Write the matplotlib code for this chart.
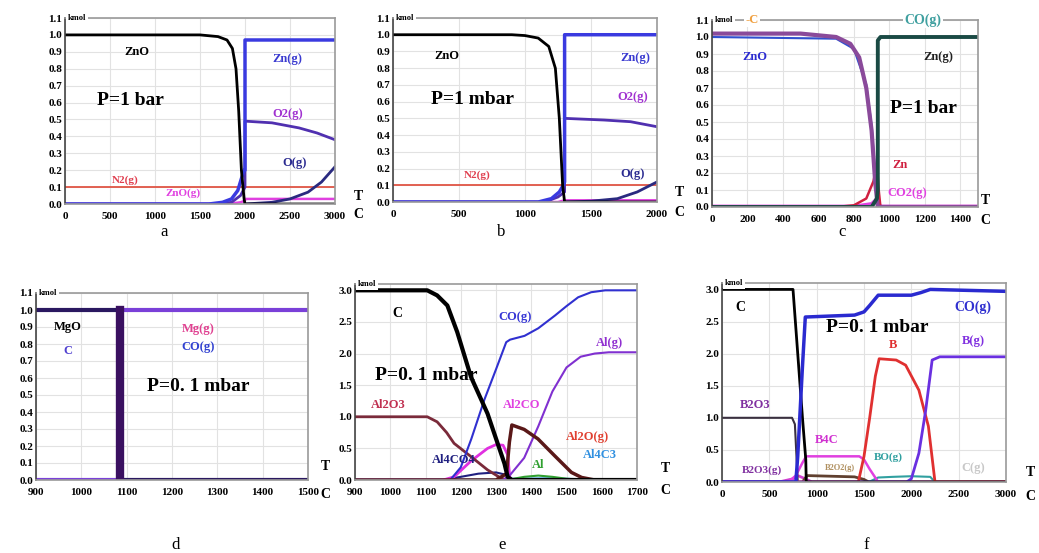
import matplotlib.pyplot as plt

plt.rcParams['font.family'] = ['Liberation Serif', 'DejaVu Serif']

# ---- panel a : ZnO, P = 1 bar ----
a_zno_t = [0, 1500, 1700, 1800, 1860, 1900, 1930, 1960, 1990, 2000, 3000]
a_zno = [1.0, 1.0, 0.99, 0.97, 0.92, 0.8, 0.55, 0.2, 0.03, 0.0, 0.0]
a_zng_t = [0, 1600, 1750, 1850, 1920, 1960, 1990, 2000, 2000, 3000]
a_zng = [0, 0, 0.01, 0.03, 0.08, 0.15, 0.2, 0.2, 0.97, 0.97]
a_o2_t = [0, 1700, 1850, 1950, 2000, 2000, 2300, 2600, 2800, 3000]
a_o2 = [0, 0, 0.01, 0.05, 0.1, 0.49, 0.48, 0.45, 0.42, 0.38]
a_o_t = [2000, 2300, 2500, 2700, 2850, 3000]
a_o = [0.0, 0.01, 0.03, 0.07, 0.13, 0.22]
a_n2_t = [0, 3000]
a_n2 = [0.1, 0.1]
a_znog_t = [0, 1800, 1950, 2000, 2000, 3000]
a_znog = [0.0, 0.0, 0.01, 0.02, 0.03, 0.03]

# ---- panel b : ZnO, P = 1 mbar ----
b_zno_t = [0, 900, 1000, 1100, 1180, 1230, 1260, 1285, 1300, 2000]
b_zno = [1.0, 1.0, 0.995, 0.98, 0.93, 0.8, 0.5, 0.1, 0.0, 0.0]
b_zng_t = [0, 1100, 1200, 1260, 1290, 1300, 1300, 2000]
b_zng = [0, 0, 0.02, 0.06, 0.1, 0.12, 1.0, 1.0]
b_o2_t = [0, 1150, 1250, 1300, 1300, 1600, 1800, 2000]
b_o2 = [0, 0, 0.03, 0.06, 0.5, 0.49, 0.48, 0.45]
b_o_t = [1300, 1500, 1700, 1850, 2000]
b_o = [0.0, 0.005, 0.02, 0.06, 0.12]
b_n2_t = [0, 2000]
b_n2 = [0.1, 0.1]
b_znog_t = [0, 1250, 1300, 2000]
b_znog = [0.0, 0.0, 0.01, 0.01]

# ---- panel c : ZnO + C, P = 1 bar ----
c_zno_t = [0, 500, 600, 700, 780, 830, 870, 900, 920, 935, 1500]
c_zno = [1.02, 1.02, 1.01, 1.0, 0.96, 0.88, 0.7, 0.45, 0.15, 0.0, 0.0]
c_c_t = [0, 700, 800, 870, 900, 920, 935, 1500]
c_c = [1.0, 0.99, 0.93, 0.72, 0.48, 0.2, 0.0, 0.0]
c_zng_t = [0, 900, 930, 935, 935, 950, 1500]
c_zng = [0, 0, 0.05, 0.1, 0.98, 1.0, 1.0]
c_zn_t = [0, 700, 800, 870, 910, 930, 940, 950, 1500]
c_zn = [0, 0, 0.01, 0.05, 0.15, 0.25, 0.1, 0.0, 0.0]
c_co2_t = [0, 800, 900, 930, 950, 1500]
c_co2 = [0.005, 0.005, 0.02, 0.05, 0.005, 0.005]

# ---- panel d : MgO + C, P = 0.1 mbar ----
d_t = [900, 1085, 1085, 1500]
d_mgo = [1.0, 1.0, 0.0, 0.0]
d_mgg = [0.0, 0.0, 1.0, 1.0]

# ---- panel e : Al2O3 + C, P = 0.1 mbar ----
e_c_t = [900, 1105, 1133, 1162, 1190, 1229, 1276, 1324, 1333, 1345, 1700]
e_c = [3.0, 3.0, 2.92, 2.76, 2.34, 1.63, 1.05, 0.26, 0.05, 0.0, 0.0]
e_co_t = [900, 1170, 1200, 1230, 1267, 1300, 1329, 1340, 1381, 1420, 1467, 1500, 1533, 1570, 1610, 1700]
e_co = [0, 0, 0.2, 0.65, 1.27, 1.75, 2.18, 2.22, 2.28, 2.4, 2.6, 2.75, 2.89, 2.97, 3.0, 3.0]
e_alg_t = [900, 1320, 1340, 1380, 1420, 1460, 1500, 1540, 1580, 1620, 1700]
e_alg = [0, 0, 0.08, 0.35, 0.85, 1.4, 1.78, 1.95, 2.0, 2.02, 2.02]
e_al2o3_t = [900, 1105, 1133, 1160, 1181, 1229, 1276, 1314, 1330, 1700]
e_al2o3 = [1.0, 1.0, 0.92, 0.75, 0.58, 0.37, 0.16, 0.03, 0.0, 0.0]
e_al2og_t = [900, 1300, 1330, 1338, 1345, 1380, 1419, 1467, 1514, 1543, 1580, 1700]
e_al2og = [0, 0, 0.1, 0.6, 0.87, 0.8, 0.65, 0.38, 0.12, 0.04, 0.0, 0.0]
e_al2co_t = [900, 1150, 1181, 1229, 1276, 1300, 1320, 1333, 1340, 1700]
e_al2co = [0, 0, 0.05, 0.3, 0.5, 0.56, 0.55, 0.4, 0.0, 0.0]
e_al4co4_t = [900, 1150, 1200, 1250, 1300, 1330, 1350, 1700]
e_al4co4 = [0, 0, 0.05, 0.1, 0.12, 0.08, 0.0, 0.0]
e_al_t = [900, 1330, 1380, 1420, 1460, 1500, 1550, 1700]
e_al = [0, 0, 0.05, 0.07, 0.05, 0.02, 0.0, 0.0]
e_al4c3_t = [900, 1300, 1350, 1450, 1550, 1700]
e_al4c3 = [0.01, 0.01, 0.02, 0.03, 0.01, 0.01]

# ---- panel f : B2O3 + C, P = 0.1 mbar ----
f_c_t = [0, 750, 800, 850, 885, 890, 3000]
f_c = [3.0, 3.0, 2.0, 1.0, 0.35, 0.0, 0.0]
f_co_t = [0, 780, 800, 850, 880, 1400, 1500, 1560, 1650, 2000, 2100, 2200, 3000]
f_co = [0, 0, 0.4, 1.8, 2.57, 2.6, 2.65, 2.75, 2.91, 2.91, 2.95, 3.0, 2.97]
f_b2o3_t = [0, 740, 770, 790, 800, 3000]
f_b2o3 = [1.0, 1.0, 0.9, 0.3, 0.0, 0.0]
f_b4c_t = [0, 700, 780, 850, 890, 1450, 1500, 1560, 1650, 3000]
f_b4c = [0, 0, 0.1, 0.3, 0.4, 0.4, 0.35, 0.2, 0.0, 0.0]
f_b_t = [0, 1440, 1500, 1560, 1620, 1660, 1840, 1940, 2080, 2180, 2250, 3000]
f_b = [0, 0, 0.4, 1.0, 1.65, 1.92, 1.9, 1.82, 1.43, 0.87, 0.0, 0.0]
f_bg_t = [0, 1950, 2000, 2080, 2150, 2220, 2300, 3000]
f_bg = [0, 0, 0.05, 0.45, 1.1, 1.9, 1.95, 1.95]
f_bo_t = [0, 1550, 1650, 1800, 2000, 2200, 2250, 3000]
f_bo = [0, 0, 0.07, 0.08, 0.09, 0.08, 0.0, 0.0]
f_b2o2_t = [0, 850, 900, 1400, 1500, 1550, 3000]
f_b2o2 = [0, 0, 0.1, 0.08, 0.04, 0.0, 0.0]
f_b2o3g_t = [0, 600, 750, 800, 880, 950, 3000]
f_b2o3g = [0, 0, 0.05, 0.1, 0.05, 0.0, 0.0]
f_cg_t = [0, 2000, 3000]
f_cg = [0.0, 0.0, 0.01]

W, H = 1039, 553
fig = plt.figure(figsize=(W / 100, H / 100), dpi=100)


def px(x, y):
    return x / W, 1 - y / H


def panel(l, r, bottom, top, xlim, ylim, xticks, yticks):
    ax = fig.add_axes([l / W, 1 - bottom / H, (r - l) / W, (bottom - top) / H])
    ax.set_xlim(*xlim)
    ax.set_ylim(*ylim)
    ax.set_xticks(xticks)
    ax.set_yticks(yticks)
    ax.set_xticklabels([str(t) for t in xticks], fontweight='bold', fontsize=8)
    ax.set_yticklabels([f"{t:.1f}" for t in yticks], fontweight='bold', fontsize=8)
    ax.tick_params(length=0)
    ax.tick_params(axis='x', pad=6)
    ax.tick_params(axis='y', pad=2)
    ax.grid(True, color='#e2e2e2', lw=0.8)
    ax.set_axisbelow(True)
    for s in ax.spines.values():
        s.set_color('#9a9a9a')
        s.set_linewidth(1.2)
    ax.spines['left'].set_color('#444444')
    ax.text(0.01, 1.0, 'kmol', transform=ax.transAxes, fontsize=6, fontweight='bold',
            va='center', ha='left', bbox=dict(fc='white', ec='none', pad=1.5))
    return ax


def lab(ax, x, y, s, c, size=9):
    ax.text(x, y, s, color=c, fontsize=size, fontweight='bold', ha='center', va='center')


def tc(xt, yt, yc):
    fig.text(*px(xt, yt), 'T', fontsize=10, fontweight='bold', ha='center', va='center')
    fig.text(*px(xt, yc), 'C', fontsize=10, fontweight='bold', ha='center', va='center')


small_y = [round(0.1 * i, 1) for i in range(12)]
big_y = [0.5 * i for i in range(7)]

# panel a
ax = panel(65, 335, 204, 18, (0, 3000), (0, 1.1), [0, 500, 1000, 1500, 2000, 2500, 3000], small_y)
ax.plot(a_n2_t, a_n2, color='#e05545', lw=1.3)
ax.plot(a_znog_t, a_znog, color='#e040e0', lw=1.8)
ax.plot(a_o_t, a_o, color='#2a2a80', lw=2)
ax.plot(a_o2_t, a_o2, color='#5030b0', lw=2)
ax.plot(a_zng_t, a_zng, color='#3a3ae0', lw=2.5)
ax.plot(a_zno_t, a_zno, color='black', lw=2)
lab(ax, 800, 0.9, 'ZnO', 'black')
lab(ax, 2467, 0.86, 'Zn(g)', '#3a3ad0')
lab(ax, 2478, 0.53, 'O2(g)', '#a030d0')
lab(ax, 2555, 0.24, 'O(g)', '#2a2a90')
lab(ax, 667, 0.14, 'N2(g)', '#e04050', 8)
lab(ax, 1311, 0.065, 'ZnO(g)', '#e040e0', 8)
ax.text(722, 0.615, 'P=1 bar', fontsize=14, fontweight='bold', ha='center', va='center')
tc(358, 197, 214)

# panel b
ax = panel(393, 657, 202, 18, (0, 2000), (0, 1.1), [0, 500, 1000, 1500, 2000], small_y)
ax.plot(b_n2_t, b_n2, color='#e05545', lw=1.3)
ax.plot(b_znog_t, b_znog, color='#e040e0', lw=1.8)
ax.plot(b_o_t, b_o, color='#2a2a80', lw=2)
ax.plot(b_o2_t, b_o2, color='#5030b0', lw=2)
ax.plot(b_zng_t, b_zng, color='#3a3ae0', lw=2.5)
ax.plot(b_zno_t, b_zno, color='black', lw=2)
lab(ax, 409, 0.87, 'ZnO', 'black')
lab(ax, 1833, 0.86, 'Zn(g)', '#3a3ad0')
lab(ax, 1818, 0.63, 'O2(g)', '#a030d0')
lab(ax, 1818, 0.17, 'O(g)', '#2a2a90')
lab(ax, 636, 0.16, 'N2(g)', '#e04050', 8)
ax.text(606, 0.61, 'P=1 mbar', fontsize=14, fontweight='bold', ha='center', va='center')
tc(679, 193, 212)

# panel c
ax = panel(712, 978, 207, 20, (0, 1500), (0, 1.1), [0, 200, 400, 600, 800, 1000, 1200, 1400], small_y)
ax.plot(c_co2_t, c_co2, color='#e040e0', lw=2.2)
ax.plot(c_zn_t, c_zn, color='#d02040', lw=1.8)
ax.plot(c_c_t, c_c, color='#3050d0', lw=1.5)
ax.plot(c_zno_t, c_zno, color='#8a4a9a', lw=3)
ax.plot(c_zng_t, c_zng, color='#1a4a44', lw=2.8)
lab(ax, 242, 0.88, 'ZnO', '#2b2bd0')
lab(ax, 1275, 0.88, 'Zn(g)', '#202020')
lab(ax, 1060, 0.25, 'Zn', '#d02040')
lab(ax, 1100, 0.08, 'CO2(g)', '#e040e0')
ax.text(1190, 0.58, 'P=1 bar', fontsize=14, fontweight='bold', ha='center', va='center')
ax.text(225, 1.1, '-C', color='#f0a040', fontsize=9, fontweight='bold', ha='center', va='center',
        bbox=dict(fc='white', ec='none', pad=1))
ax.text(1190, 1.1, 'CO(g)', color='#40a0a0', fontsize=10, fontweight='bold', ha='center', va='center',
        bbox=dict(fc='white', ec='none', pad=1))
tc(985, 200, 220)

# panel d
ax = panel(36, 308, 480, 293, (900, 1500), (0, 1.1), [900, 1000, 1100, 1200, 1300, 1400, 1500], small_y)
ax.plot(d_t, d_mgg, color='#7a40d8', lw=3)
ax.plot(d_t, d_mgo, color='#2a1860', lw=3)
ax.plot([d_t[1], d_t[2]], [0, 1], color='#3a1060', lw=6)
lab(ax, 971, 0.9, 'MgO', 'black')
lab(ax, 971, 0.76, 'C', '#5040d0')
lab(ax, 1257, 0.89, 'Mg(g)', '#e04090')
lab(ax, 1257, 0.78, 'CO(g)', '#3040d0')
ax.text(1257, 0.55, 'P=0. 1 mbar', fontsize=14, fontweight='bold', ha='center', va='center')
tc(325, 467, 494)

# panel e
ax = panel(355, 637, 480, 284, (900, 1700), (0, 3.1), list(range(900, 1701, 100)), big_y)
ax.plot(e_al4c3_t, e_al4c3, color='#60b8f0', lw=1.5)
ax.plot(e_al_t, e_al, color='#30a030', lw=1.5)
ax.plot(e_al4co4_t, e_al4co4, color='#202080', lw=1.5)
ax.plot(e_al2co_t, e_al2co, color='#e030e0', lw=2)
ax.plot(e_al2o3_t, e_al2o3, color='#7a2a3a', lw=2)
ax.plot(e_alg_t, e_alg, color='#8030d0', lw=1.5)
ax.plot(e_co_t, e_co, color='#3030d0', lw=1.5)
ax.plot(e_al2og_t, e_al2og, color='#5a1818', lw=2.5)
ax.plot(e_c_t, e_c, color='black', lw=3)
lab(ax, 1019, 2.64, 'C', 'black', 10)
lab(ax, 1354, 2.58, 'CO(g)', '#3535d5')
lab(ax, 1623, 2.16, 'Al(g)', '#9030d0')
lab(ax, 994, 1.18, 'Al2O3', '#c03050')
lab(ax, 1374, 1.18, 'Al2CO', '#e040e0')
lab(ax, 1558, 0.68, 'Al2O(g)', '#e04030')
lab(ax, 1596, 0.39, 'Al4C3', '#3090e0')
lab(ax, 1419, 0.24, 'Al', '#30a030')
lab(ax, 1179, 0.32, 'Al4CO4', '#202080')
ax.text(957, 1.66, 'P=0. 1 mbar', fontsize=14, fontweight='bold', ha='left', va='center')
tc(665, 468, 490)

# panel f
ax = panel(722, 1006, 482, 283, (0, 3000), (0, 3.1), [0, 500, 1000, 1500, 2000, 2500, 3000], big_y)
ax.plot(f_cg_t, f_cg, color='#c8c8c8', lw=1.5)
ax.plot(f_b2o3g_t, f_b2o3g, color='#d040d0', lw=2)
ax.plot(f_b2o2_t, f_b2o2, color='#604030', lw=2)
ax.plot(f_bo_t, f_bo, color='#30a0a0', lw=1.5)
ax.plot(f_b4c_t, f_b4c, color='#e040e0', lw=1.8)
ax.plot(f_b2o3_t, f_b2o3, color='#3a3040', lw=1.5)
ax.plot(f_b_t, f_b, color='#e03030', lw=2)
ax.plot(f_bg_t, f_bg, color='#6a30e0', lw=2)
ax.plot(f_c_t, f_c, color='black', lw=2)
ax.plot(f_co_t, f_co, color='#2a2ad0', lw=2.5)
lab(ax, 190, 2.72, 'C', 'black', 10)
lab(ax, 2651, 2.72, 'CO(g)', '#3030d0', 10)
lab(ax, 1806, 2.13, 'B', '#e03030')
lab(ax, 2651, 2.2, 'B(g)', '#8030e0')
lab(ax, 349, 1.2, 'B2O3', '#8030a0')
lab(ax, 1109, 0.65, 'B4C', '#d030d0')
lab(ax, 1753, 0.39, 'BO(g)', '#30a0a0', 8)
lab(ax, 423, 0.19, 'B2O3(g)', '#8030a0', 8)
lab(ax, 1246, 0.22, 'B2O2(g)', '#b09060', 6)
lab(ax, 2651, 0.22, 'C(g)', '#c8c8c8')
ax.text(1637, 2.41, 'P=0. 1 mbar', fontsize=14, fontweight='bold', ha='center', va='center')
tc(1030, 472, 497)

# subplot letters
for s, x, y in [('a', 164, 232), ('b', 501, 232), ('c', 842, 232),
                ('d', 176, 545), ('e', 502, 545), ('f', 866, 545)]:
    fig.text(*px(x, y), s, fontsize=12, ha='center', va='center')

fig.savefig('out.png', dpi=100)
